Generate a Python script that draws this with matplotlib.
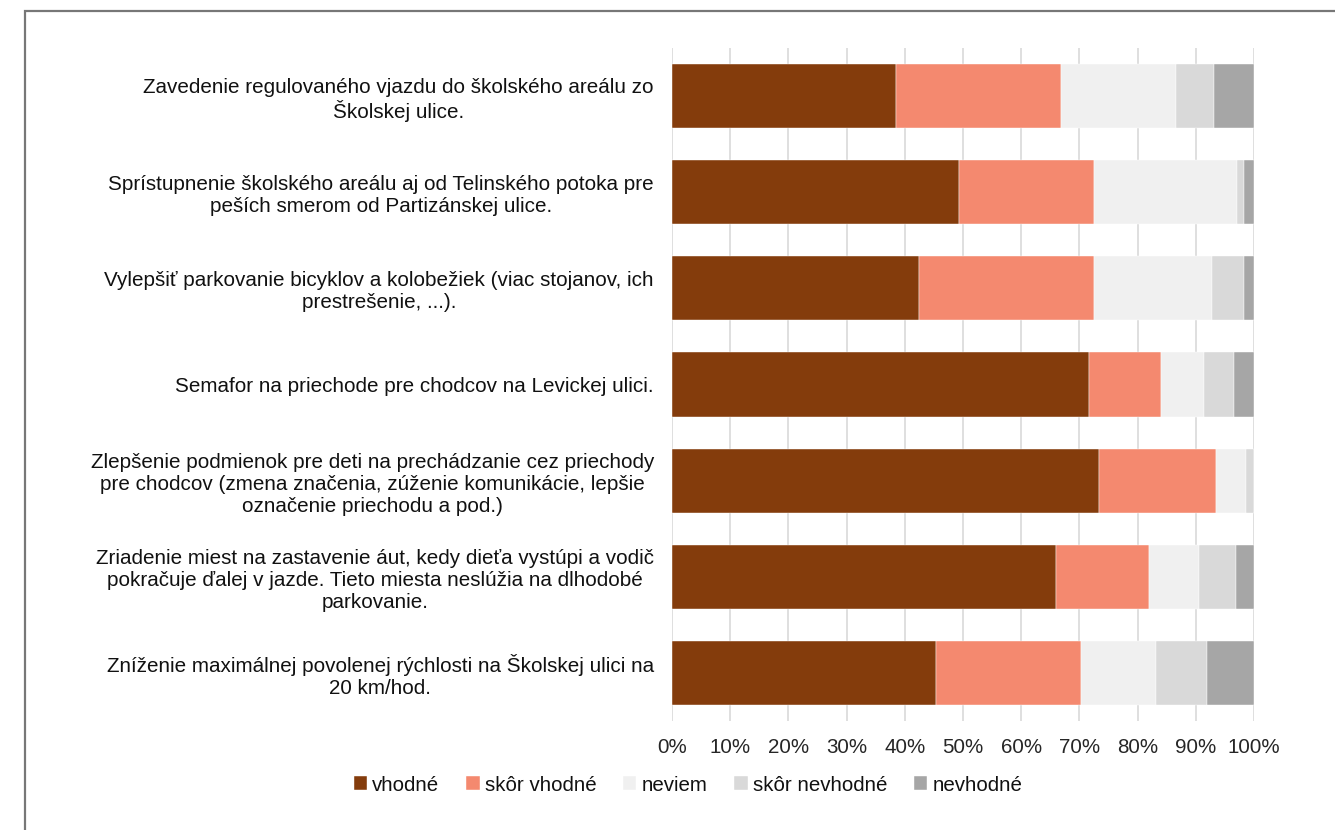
import numpy as np
import matplotlib.pyplot as plt
from matplotlib.patches import Rectangle

plt.rcParams['font.family'] = ['Liberation Sans', 'DejaVu Sans']

labels = [
    "Zavedenie regulovaného vjazdu do školského areálu zo\nŠkolskej ulice.",
    "Sprístupnenie školského areálu aj od Telinského potoka pre\npeších smerom od Partizánskej ulice.",
    "Vylepšiť parkovanie bicyklov a kolobežiek (viac stojanov, ich\nprestrešenie, ...).",
    "Semafor na priechode pre chodcov na Levickej ulici.",
    "Zlepšenie podmienok pre deti na prechádzanie cez priechody\npre chodcov (zmena značenia, zúženie komunikácie, lepšie\noznačenie priechodu a pod.)",
    "Zriadenie miest na zastavenie áut, kedy dieťa vystúpi a vodič\npokračuje ďalej v jazde. Tieto miesta neslúžia na dlhodobé\nparkovanie.",
    "Zníženie maximálnej povolenej rýchlosti na Školskej ulici na\n20 km/hod.",
]

series = ["vhodné", "skôr vhodné", "neviem", "skôr nevhodné", "nevhodné"]
vhodne = [38.5, 49.3, 42.4, 71.6, 73.3, 66.0, 45.4]
skor_vhodne = [28.4, 23.2, 30.1, 12.5, 20.2, 15.9, 24.9]
neviem = [19.7, 24.5, 20.2, 7.3, 5.1, 8.6, 12.9]
skor_nevhodne = [6.5, 1.3, 5.6, 5.2, 1.4, 6.4, 8.7]
nevhodne = [6.9, 1.7, 1.7, 3.4, 0.0, 3.1, 8.1]
colors = ["#843c0c", "#f4896f", "#f0f0f0", "#d9d9d9", "#a6a6a6"]

data = np.array([vhodne, skor_vhodne, neviem, skor_nevhodne, nevhodne])
data = data / data.sum(axis=0)  # normalise each row to 100 %

fig = plt.figure(figsize=(13.35, 8.3), dpi=100)
ax = fig.add_axes([672 / 1335, 1 - 721 / 830, 582 / 1335, 673 / 830])

y = np.arange(len(labels))
left = np.zeros(len(labels))
for vals, name, col in zip(data, series, colors):
    ax.barh(y, vals, left=left, height=0.667, color=col, label=name,
            edgecolor="white", linewidth=0.3, zorder=3)
    left += vals

ax.set_xlim(0, 1)
ax.set_ylim(len(labels) - 0.5, -0.5)
ax.set_xticks(np.linspace(0, 1, 11))
ax.set_xticklabels([f"{p}%" for p in range(0, 101, 10)], fontsize=14.8, color="#262626")
ax.set_yticks(y)
ax.set_yticklabels(labels, fontsize=14.9, color="#111111", multialignment="center",
                   linespacing=1.2)
ax.tick_params(axis="both", length=0)
ax.tick_params(axis="y", pad=13)
ax.tick_params(axis="x", pad=12)
ax.grid(axis="x", color="#d9d9d9", linewidth=1.2, zorder=0)
for s in ax.spines.values():
    s.set_visible(False)

handles, names = ax.get_legend_handles_labels()
fig.legend(handles, names, loc="center", bbox_to_anchor=(688 / 1335, 1 - 785 / 830),
           ncol=5, frameon=False, fontsize=14.8, handlelength=0.65, handleheight=0.65,
           handletextpad=0.25, columnspacing=1.3, labelcolor="#111111")

# outer chart frame
fig.patches.append(Rectangle((24.5 / 1335, -0.1), 1.2, 1 - 11 / 830 + 0.1,
                             transform=fig.transFigure, fill=False,
                             edgecolor="#777777", linewidth=1.6))

fig.savefig("out.png", dpi=100)
